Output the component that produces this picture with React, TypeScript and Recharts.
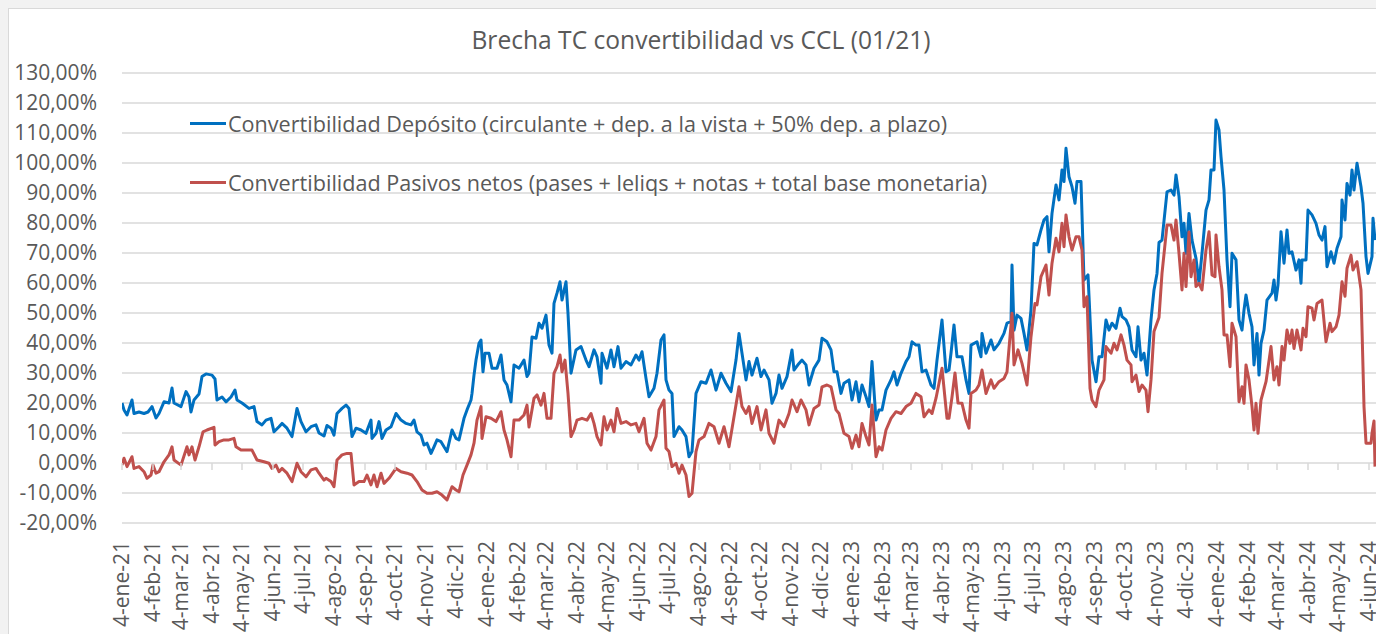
import { LineChart, Line, XAxis, YAxis, CartesianGrid } from 'recharts'

// días desde el 4-ene-21, valor en %
const deposito: [number, number][] = [
  [0, 20], [2, 17.7], [5, 16], [10, 21], [12, 16.5], [17, 17], [22, 16.5], [26, 17], [30, 18.8], [34, 15],
  [37, 16.5], [42, 20.4], [47, 20], [50, 25], [52, 20], [59, 18.8], [64, 23.8], [67, 22], [69, 17], [72, 21],
  [77, 23], [80, 28.8], [84, 29.7], [90, 29.3], [93, 28], [95, 21], [100, 22], [104, 20.4], [109, 22], [113, 24.3],
  [115, 21], [120, 20], [127, 18.2], [132, 18.8], [135, 13.8], [140, 12.7], [144, 14.3], [149, 14.9], [152, 10.4], [157, 12.1],
  [160, 13.2], [165, 11.6], [170, 8.8], [175, 18.2], [179, 13.8], [184, 10.4], [189, 12.1], [194, 12.7], [197, 10], [202, 9],
  [205, 12.5], [209, 11.6], [212, 9.3], [215, 16.5], [220, 18.2], [224, 19.3], [227, 18.2], [230, 8.8], [234, 11.6], [239, 11],
  [244, 9.9], [249, 14.3], [250, 8.2], [254, 9.9], [257, 13.8], [260, 8.2], [264, 11], [269, 12.1], [274, 16.5], [279, 14.3],
  [284, 13.2], [289, 12.7], [292, 14.3], [295, 10.4], [299, 9.3], [302, 6], [305, 6.6], [309, 3.2], [312, 5.4], [315, 7.7],
  [319, 7.1], [322, 5.4], [325, 3.8], [330, 11], [334, 8.2], [337, 7.7], [342, 14.9], [345, 17.7], [349, 21], [350, 23.2],
  [352, 29.3], [354, 34.3], [357, 39.9], [359, 41], [361, 30.4], [363, 36.6], [367, 36.6], [370, 31.6], [375, 31.6], [379, 36],
  [382, 27.7], [385, 26], [389, 20.4], [392, 32.7], [397, 31.6], [402, 34.3], [405, 28.8], [407, 30], [410, 42], [414, 41.6],
  [417, 46.6], [420, 44.9], [424, 49.3], [427, 39.3], [430, 36.6], [432, 53.2], [435, 56.6], [438, 60.4], [440, 54.3], [444, 60.4],
  [446, 49.9], [449, 29.9], [454, 37.7], [459, 38.8], [464, 34.3], [467, 32.1], [472, 37.7], [475, 35.4], [479, 26.6], [480, 36.6],
  [485, 31.6], [489, 37.7], [492, 32.1], [496, 38.8], [499, 31.6], [504, 33.8], [509, 32.7], [514, 36], [517, 34.3], [520, 37.1],
  [524, 28.2], [527, 22.1], [532, 24.9], [535, 29.9], [539, 41], [542, 42.7], [544, 27.7], [547, 24.3], [550, 23.2], [552, 8.8],
  [557, 12.1], [560, 11], [564, 8.8], [567, 2.1], [570, 3.8], [574, 23.2], [579, 27.1], [584, 26.6], [589, 31], [594, 24.3],
  [599, 29.9], [604, 26.6], [609, 23.8], [614, 34.3], [617, 43.2], [620, 36.6], [624, 27.7], [627, 33.8], [630, 29.3], [635, 34.9],
  [639, 28.8], [642, 31], [647, 27.7], [650, 19.9], [654, 23.2], [657, 29.3], [660, 24.9], [665, 28.8], [670, 37.7], [672, 31],
  [677, 33.2], [680, 34.3], [684, 32.7], [687, 26], [692, 31.6], [697, 34.3], [700, 41.6], [705, 40.4], [709, 37.7], [712, 30.4],
  [715, 30.4], [719, 23.2], [722, 26.6], [727, 27.7], [730, 21], [734, 27.1], [737, 20.4], [740, 26], [744, 22.1], [747, 18.8],
  [750, 33.8], [754, 14.3], [757, 17.7], [760, 17.7], [764, 24.3], [769, 27.7], [772, 30.4], [775, 26], [779, 29.9], [784, 33.8],
  [787, 35.4], [790, 40.4], [794, 39.3], [797, 39.3], [800, 30.4], [804, 31], [809, 26], [812, 24.9], [815, 34.3], [820, 47.7],
  [824, 30.4], [827, 31], [829, 36.6], [832, 46], [835, 35.4], [840, 35.4], [844, 27.7], [847, 23.2], [849, 39.3], [855, 40.4],
  [859, 35.4], [860, 43.2], [864, 36.6], [869, 41], [872, 37.7], [877, 39.9], [882, 43.2], [885, 46.6], [889, 47.1], [890, 66],
  [892, 44.3], [895, 49.3], [899, 48.2], [902, 43.2], [905, 37.7], [909, 51], [912, 73.2], [915, 72.7], [919, 77.7], [922, 81],
  [925, 82.1], [927, 70.4], [930, 83.2], [934, 92.7], [937, 87.7], [940, 97.7], [942, 93.8], [944, 104.9], [947, 95.4], [950, 92.1],
  [953, 86.6], [955, 93.8], [959, 93.8], [962, 61], [966, 62.7], [970, 34.3], [974, 27.1], [977, 35.4], [980, 35.4], [984, 47.7],
  [987, 44.3], [990, 46.6], [994, 44.9], [998, 51.6], [1000, 48.8], [1004, 47.7], [1007, 45.4], [1010, 37.7], [1014, 35.4], [1016, 45.4],
  [1019, 34.3], [1022, 36.6], [1025, 29.3], [1029, 47.7], [1032, 57.7], [1035, 63.2], [1037, 73.5], [1040, 74.3], [1045, 90.4], [1049, 91],
  [1052, 89.3], [1054, 96], [1057, 88.8], [1060, 75.4], [1062, 79.9], [1064, 69.9], [1067, 83.2], [1070, 74.3], [1074, 68.2], [1077, 59.9],
  [1080, 69.9], [1084, 84.3], [1087, 87.7], [1089, 97.7], [1092, 97.7], [1094, 114.3], [1097, 111], [1099, 102.1], [1102, 91], [1105, 67.7],
  [1108, 52.1], [1110, 69.9], [1114, 67.7], [1117, 47.7], [1120, 44.3], [1122, 51], [1124, 56], [1127, 49.9], [1130, 45.4], [1132, 32.7],
  [1135, 43.2], [1137, 29.3], [1139, 39.9], [1142, 44.3], [1145, 54.3], [1150, 56.6], [1152, 61], [1154, 54.3], [1156, 59.3], [1159, 77.1],
  [1162, 66.6], [1165, 77.7], [1167, 69.9], [1170, 70.4], [1174, 64.3], [1177, 67.7], [1179, 59.9], [1180, 67.7], [1184, 67.7], [1186, 84.3],
  [1190, 82.7], [1194, 79.9], [1197, 76], [1200, 74.3], [1203, 78.8], [1205, 65.4], [1209, 70.4], [1212, 66.6], [1215, 71.6], [1219, 75.4],
  [1220, 87.7], [1223, 81], [1225, 93.2], [1228, 89.3], [1230, 97.7], [1232, 91], [1235, 99.9], [1239, 92.1], [1241, 86.6], [1244, 68.8],
  [1246, 63.2], [1250, 68.8], [1251, 81.6], [1253, 74.3],
]

const pasivos: [number, number][] = [
  [0, -0.7], [2, 1.6], [5, -1.2], [10, 2.1], [12, -1.8], [17, -1.2], [22, -2.9], [25, -5.1], [29, -4], [31, -0.7],
  [34, -3.4], [37, -2.9], [42, 0.4], [47, 2.7], [50, 5.4], [52, 1], [59, -0.7], [65, 5.4], [67, 2.7], [70, 5.4],
  [73, 1], [77, 5.4], [81, 10.4], [85, 11], [92, 11.9], [93, 6], [97, 7.1], [102, 7.7], [107, 7.7], [112, 8.2],
  [114, 5.4], [119, 4.3], [124, 4.3], [130, 4.3], [135, 1], [142, 0.4], [147, -0.1], [150, -1.8], [154, -0.7], [157, -2.9],
  [160, -1.8], [165, -3.4], [170, -6.2], [175, -0.1], [179, -2.9], [184, -4.6], [189, -2.3], [194, -1.8], [197, -3.4], [202, -5.7],
  [204, -5.1], [209, -6.2], [212, -7.9], [215, 1], [220, 2.7], [225, 3.2], [229, 3.2], [232, -7.3], [237, -6.2], [242, -6.2],
  [245, -4], [249, -7.3], [252, -4], [255, -7.9], [259, -3.4], [262, -6.8], [267, -5.1], [274, -1.8], [279, -2.9], [285, -3.4],
  [290, -4], [295, -6.2], [300, -9], [305, -10.1], [310, -10.1], [315, -9.6], [320, -10.7], [325, -12.3], [330, -7.9], [334, -9],
  [337, -9.6], [341, -4], [345, -0.7], [349, 2.7], [352, 6.6], [355, 14.3], [359, 18.8], [360, 8.2], [364, 15.4], [369, 14.9],
  [374, 13.8], [379, 17.1], [382, 11], [385, 7.7], [389, 2.1], [392, 14.3], [397, 14.3], [402, 16], [405, 19.3], [407, 12],
  [412, 21.6], [415, 22.7], [419, 19.3], [422, 23.2], [425, 14.9], [429, 14.9], [432, 29.9], [435, 32.1], [438, 36], [440, 30.4],
  [443, 34.3], [446, 23.2], [449, 8.8], [452, 11], [455, 14.3], [460, 14.9], [465, 14.3], [469, 16.5], [472, 13.2], [475, 8.8],
  [479, 6], [482, 15.4], [485, 11], [489, 14.3], [492, 10.4], [495, 18.2], [499, 13.2], [504, 13.8], [509, 12.7], [514, 13.2],
  [517, 10.4], [522, 14.9], [525, 6.6], [529, 4.3], [534, 8.8], [537, 17.7], [542, 21], [544, 4.9], [547, 3.8], [550, -1.2],
  [554, -0.1], [557, -3.4], [560, -0.7], [564, -4], [567, -11.2], [570, -10.1], [574, 3.8], [577, 7.7], [582, 8.8], [587, 13.2],
  [592, 12.1], [597, 6.6], [602, 12.1], [607, 5.4], [612, 15.4], [617, 25.4], [620, 18.8], [624, 16.5], [627, 18.8], [630, 13.2],
  [635, 18.8], [639, 11], [644, 17.7], [647, 9.9], [652, 6.6], [657, 14.3], [662, 12.1], [667, 16.5], [670, 21], [675, 17.1],
  [679, 21], [684, 17.7], [687, 12.7], [692, 18.2], [697, 19.3], [700, 25.4], [705, 26], [709, 25.4], [714, 17.7], [717, 16.5],
  [722, 9.9], [727, 8.8], [730, 4.9], [734, 9.3], [737, 5.4], [740, 13.2], [744, 8.8], [747, 6], [750, 19.3], [754, 2.1],
  [757, 5.4], [760, 4.3], [764, 11], [769, 14.9], [774, 17.1], [779, 16.5], [784, 18.8], [789, 19.9], [794, 23.2], [799, 22.1],
  [802, 15.4], [807, 17.7], [810, 16.5], [814, 21.6], [820, 31.6], [825, 14.9], [827, 14.9], [830, 22], [833, 30], [836, 20],
  [840, 19.9], [844, 14.3], [847, 11.6], [849, 23.2], [854, 24.3], [857, 26], [860, 31], [864, 23.2], [869, 27.7], [872, 24.9],
  [877, 27.1], [882, 28.2], [885, 30.4], [890, 49.9], [892, 32.7], [896, 37.7], [900, 33.2], [905, 26], [909, 42.1], [913, 53.2],
  [915, 52.7], [919, 62.1], [924, 66], [927, 56], [930, 66.6], [934, 74.9], [937, 70.4], [940, 79.9], [942, 72.1], [944, 82.7],
  [947, 75.4], [950, 71], [954, 75.4], [957, 75.4], [960, 71], [962, 52.1], [965, 55.4], [968, 24.9], [970, 21], [974, 18.8],
  [977, 24.3], [982, 27.7], [984, 38.8], [989, 36.6], [992, 39.9], [995, 37.7], [999, 42.7], [1002, 39.3], [1005, 34.3], [1009, 32.7],
  [1010, 27.1], [1014, 29.3], [1017, 23.8], [1020, 26], [1024, 24.3], [1026, 17.1], [1029, 27.7], [1032, 43.8], [1037, 48.5], [1040, 63.2],
  [1045, 79.3], [1049, 79.3], [1052, 74.3], [1054, 81], [1057, 69.9], [1060, 57.7], [1062, 69.9], [1064, 58.8], [1067, 77], [1069, 62.1],
  [1072, 67.7], [1074, 58.8], [1077, 59.9], [1080, 57.7], [1084, 71], [1087, 77.1], [1090, 62.7], [1093, 62.1], [1094, 76], [1097, 65.4],
  [1100, 57.7], [1102, 42.7], [1105, 42.7], [1108, 32.1], [1110, 46.6], [1114, 42.1], [1117, 20.4], [1120, 25.4], [1122, 19.9], [1124, 32.7],
  [1127, 27.7], [1130, 18.8], [1132, 11], [1134, 19.9], [1136, 9.9], [1139, 21], [1144, 27.1], [1149, 38.8], [1152, 27.7], [1155, 32.1],
  [1157, 26], [1160, 38.8], [1162, 34.3], [1165, 44.3], [1168, 39.9], [1170, 44.3], [1172, 38.2], [1175, 44.3], [1179, 37.7], [1181, 44.9],
  [1184, 42.1], [1186, 52.1], [1190, 51.6], [1192, 47.7], [1195, 53.2], [1200, 54.3], [1204, 40.4], [1208, 46.6], [1210, 43.8], [1214, 45.4],
  [1217, 49.3], [1220, 60.4], [1223, 55.6], [1225, 64.9], [1229, 69.3], [1231, 64.3], [1235, 67.1], [1239, 57.7], [1242, 18.8], [1244, 6.6],
  [1249, 6.6], [1250, 9.9], [1252, 14], [1253, -1.2],
]

const meses = ['ene', 'feb', 'mar', 'abr', 'may', 'jun', 'jul', 'ago', 'sep', 'oct', 'nov', 'dic']
const anios = [2021, 2022, 2023, 2024]
const yTicks = [-20, -10, 0, 10, 20, 30, 40, 50, 60, 70, 80, 90, 100, 110, 120, 130]

const Y_MIN = -20
const Y_MAX = 130
const X_MAX = 1280
const PLOT_H = 450
const FONT = '"Open Sans", sans-serif'
const GRIS = '#595959'

const DIA = 86400000
const base = Date.UTC(2021, 0, 4)
const xTicks: number[] = []
const xLabels: Record<number, string> = {}
anios.forEach((a) => {
  meses.forEach((m, i) => {
    const d = Math.round((Date.UTC(a, i, 4) - base) / DIA)
    if (d <= 1250) {
      xTicks.push(d)
      xLabels[d] = `4-${m}-${String(a).slice(2)}`
    }
  })
})

const toRows = (s: [number, number][]) => s.map(([d, v]) => ({ d, v }))
const fmtPct = (v: number) => `${v.toFixed(2).replace('.', ',')}%`
const zeroOffset = (PLOT_H * (0 - Y_MIN)) / (Y_MAX - Y_MIN)

function XTick(props: any) {
  const { x, y, payload } = props
  const ty = y + 18
  return (
    <g>
      <line x1={x} x2={x} y1={y - zeroOffset} y2={y - zeroOffset + 7} stroke="#d9d9d9" strokeWidth={1.5} />
      <text
        x={x}
        y={ty}
        transform={`rotate(-90 ${x} ${ty})`}
        textAnchor="end"
        dy="0.35em"
        fill={GRIS}
        fontSize={21}
        fontFamily={FONT}
      >
        {xLabels[payload.value]}
      </text>
    </g>
  )
}

const series = [
  { name: 'Convertibilidad Depósito (circulante + dep. a la vista + 50% dep. a plazo)', color: '#0070C0', data: deposito },
  { name: 'Convertibilidad Pasivos netos (pases + leliqs + notas + total base monetaria)', color: '#C0504D', data: pasivos },
]

export default function App() {
  return (
    <div style={{ position: 'fixed', inset: 0, background: '#f2f2f2', overflow: 'hidden' }}>
      <div
        style={{
          position: 'absolute',
          left: 8,
          top: 8,
          width: 1403,
          height: 700,
          background: '#fff',
          border: '1px solid #d9d9d9',
        }}
      >
        <div
          style={{
            position: 'absolute',
            left: 292,
            width: 800,
            top: 13,
            textAlign: 'center',
            fontFamily: FONT,
            fontSize: 24.6,
            color: GRIS,
            lineHeight: '36px',
          }}
        >
          Brecha TC convertibilidad vs CCL (01/21)
        </div>
        <div style={{ position: 'absolute', left: 181, top: 85, fontFamily: FONT, fontSize: 21.6, color: GRIS, zIndex: 2 }}>
          {series.map((s) => (
            <div key={s.name} style={{ display: 'flex', alignItems: 'center', height: 59, whiteSpace: 'nowrap' }}>
              <span style={{ display: 'inline-block', width: 36, height: 3, background: s.color, marginRight: 2 }} />
              {s.name}
            </div>
          ))}
        </div>
        <LineChart width={1403} height={700} margin={{ top: 64, right: 10, bottom: 0, left: 0 }}>
          <CartesianGrid vertical={false} stroke="#d9d9d9" strokeWidth={1.5} />
          <XAxis
            dataKey="d"
            type="number"
            domain={[0, X_MAX]}
            ticks={xTicks}
            interval={0}
            height={186}
            axisLine={false}
            tickLine={false}
            tickSize={0}
            tickMargin={0}
            tick={<XTick />}
            allowDataOverflow
          />
          <YAxis
            type="number"
            domain={[Y_MIN, Y_MAX]}
            ticks={yTicks}
            interval={0}
            width={113}
            axisLine={false}
            tickLine={false}
            tickSize={0}
            tickMargin={25}
            tickFormatter={fmtPct}
            tick={{ fill: GRIS, fontSize: 21, fontFamily: FONT }}
          />
          {series.map((s) => (
            <Line
              key={s.name}
              data={toRows(s.data)}
              dataKey="v"
              name={s.name}
              type="linear"
              stroke={s.color}
              strokeWidth={3}
              strokeLinejoin="round"
              dot={false}
              activeDot={false}
              isAnimationActive={false}
            />
          ))}
        </LineChart>
      </div>
    </div>
  )
}
